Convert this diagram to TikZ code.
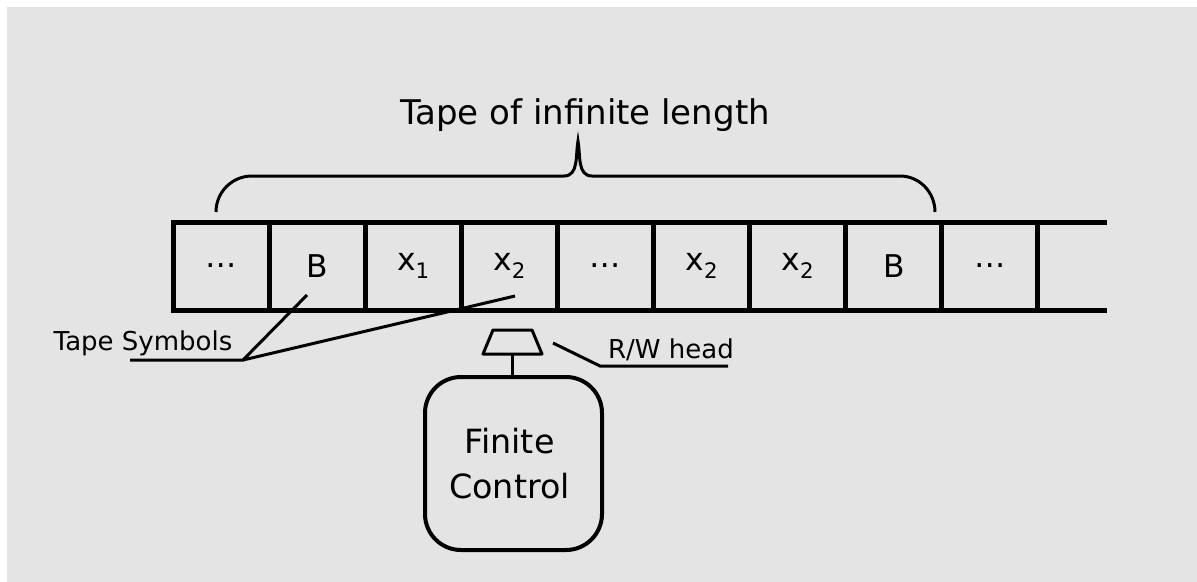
\documentclass[tikz,border=0pt]{standalone}
\usepackage{fontspec}
\setmainfont{DejaVu Sans}
\definecolor{paper}{HTML}{E4E4E4}
\newdimen\pxu \pxu=0.75pt
\newcommand{\sub}[1]{\raisebox{-0.5ex}{\fontsize{16}{16}\selectfont #1}}

\begin{document}
\begin{tikzpicture}[x=0.75pt, y=-0.75pt,
    cell/.style={draw, line width=5\pxu, minimum width=96.1\pxu, minimum height=88\pxu, inner sep=0pt, outer sep=0pt, font=\fontsize{23.5}{28}\selectfont},
    tapeline/.style={line width=5\pxu},
    pointer/.style={line width=3\pxu},
    smalltext/.style={inner sep=0pt, font=\fontsize{19.5}{23}\selectfont}]
      \useasboundingbox (0,0) rectangle (1197,582);
      % paper
      \fill[white] (0,0) rectangle (1197,582);
      \fill[paper] (7,7) rectangle (1197,582);

      % tape cells
      \foreach \sym [count=\i] in {\dots, B, x\sub{1}, x\sub{2}, \dots, x\sub{2}, x\sub{2}, B, \dots}
        \node[cell] (c\i) at ({173+96.1*(\i-0.5)},266) {\sym};
      \draw[tapeline] (c9.north east) -- ++(69,0);
      \draw[tapeline] (c9.south east) -- ++(69,0);

      % brace
      \draw[line width=3\pxu] (216,212) to[out=90,in=180] (252,176) -- (564,176)
        to[out=0,in=-100] (578,141) to[out=-80,in=180] (592,176) -- (900,176)
        to[out=0,in=90] (935,212);
      \node[font=\fontsize{25.5}{30}\selectfont] (tapetitle) at (585,115) {Tape of infinite length};

      % tape symbols
      \node[smalltext] (symlabel) at (143,343) {Tape Symbols};
      \coordinate (symleft) at (130,360);
      \coordinate (symfork) at (243,360);
      \coordinate (bmark) at (307,295);
      \coordinate (xmark) at (515,296);
      \draw[pointer] (symleft) -- (symfork) -- (bmark);
      \draw[pointer] (symfork) -- (xmark);

      % finite control and head
      \node[draw, line width=4\pxu, outer sep=0pt, rounded corners=36\pxu, minimum width=177\pxu, minimum height=173\pxu,
        align=center, font=\fontsize{25}{34}\selectfont] (fc) at (513.5,463.5) {\hspace*{-8\pxu}Finite\\\hspace*{-8\pxu}Control};
      \draw[pointer, line join=round] (493,330) -- (532,330) -- (542,354) -- (483,354) -- cycle;
      \coordinate (headbase) at (512,354);
      \draw[pointer] (headbase) -- (headbase |- fc.north);

      % head label
      \node[smalltext] (rwlabel) at (671,350) {R/W head};
      \coordinate (headtip) at (553,343);
      \coordinate (rwknee) at (600,366);
      \coordinate (rwend) at (728,366);
      \draw[pointer] (headtip) -- (rwknee) -- (rwend);
\end{tikzpicture}
\end{document}
